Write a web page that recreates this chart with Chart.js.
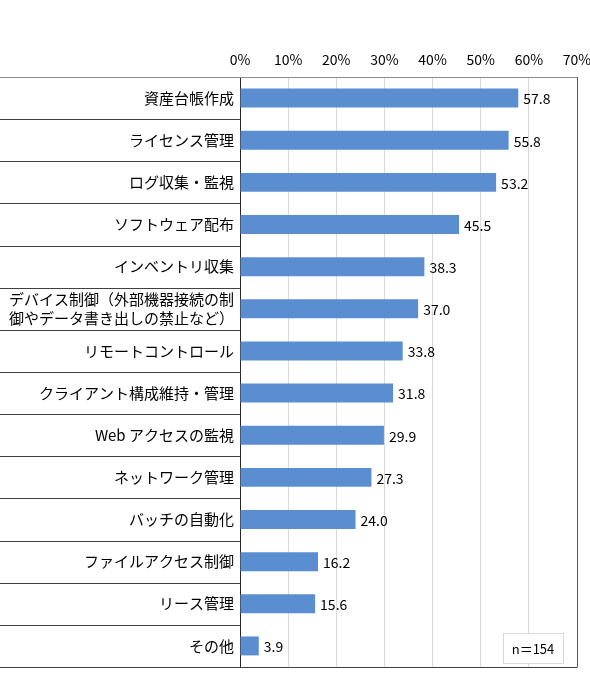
<!DOCTYPE html>
<html>
<head>
<meta charset="utf-8">
<script src="https://cdn.jsdelivr.net/npm/chart.js@4"></script>
<style>
html,body{margin:0;padding:0;background:#fff;}
#wrap{width:590px;height:681px;position:relative;}
</style>
</head>
<body>
<div id="wrap"><canvas id="c" width="590" height="681"></canvas></div>
<script>
const categories = [
  '資産台帳作成',
  'ライセンス管理',
  'ログ収集・監視',
  'ソフトウェア配布',
  'インベントリ収集',
  ['デバイス制御（外部機器接続の制', '御やデータ書き出しの禁止など）'],
  'リモートコントロール',
  'クライアント構成維持・管理',
  'Web アクセスの監視',
  'ネットワーク管理',
  'バッチの自動化',
  'ファイルアクセス制御',
  'リース管理',
  'その他'
];
const values = [57.8, 55.8, 53.2, 45.5, 38.3, 37.0, 33.8, 31.8, 29.9, 27.3, 24.0, 16.2, 15.6, 3.9];
const xTickLabels = ['0%', '10%', '20%', '30%', '40%', '50%', '60%', '70%'];
const sampleNote = 'n＝154';

const FONT = "'Noto Sans CJK JP', 'Noto Sans', sans-serif";

const framePlugin = {
  id: 'frame',
  afterDraw(chart) {
    const ctx = chart.ctx;
    const a = chart.chartArea;
    const ys = chart.scales.y;
    ctx.save();
    ctx.strokeStyle = '#404040';
    ctx.lineWidth = 1;
    const n = categories.length;
    for (let i = 1; i < n; i++) {
      const y = Math.round((ys.getPixelForValue(i - 1) + ys.getPixelForValue(i)) / 2) + 0.5;
      ctx.beginPath();
      ctx.moveTo(0, y);
      ctx.lineTo(a.left, y);
      ctx.stroke();
    }
    ctx.strokeStyle = '#8c8c8c';
    ctx.beginPath();
    ctx.moveTo(0, Math.round(a.top) + 0.5);
    ctx.lineTo(a.right, Math.round(a.top) + 0.5);
    ctx.stroke();
    ctx.strokeStyle = '#404040';
    ctx.beginPath();
    ctx.moveTo(0, Math.round(a.bottom) + 0.5);
    ctx.lineTo(a.right + 0.5, Math.round(a.bottom) + 0.5);
    ctx.stroke();
    ctx.strokeStyle = '#595959';
    ctx.beginPath();
    ctx.moveTo(Math.round(a.right) + 0.5, a.top);
    ctx.lineTo(Math.round(a.right) + 0.5, a.bottom);
    ctx.stroke();
    ctx.fillStyle = '#000';
    ctx.font = '14px ' + FONT;
    ctx.textAlign = 'left';
    ctx.textBaseline = 'middle';
    const meta = chart.getDatasetMeta(0);
    meta.data.forEach((bar, i) => {
      ctx.fillText(values[i].toFixed(1), bar.x + 5, bar.y + 1);
    });
    const bw = 60, bh = 30;
    const bx = a.right - 14 - bw, by = a.bottom - 4 - bh;
    ctx.fillStyle = '#fff';
    ctx.fillRect(bx, by, bw, bh);
    ctx.strokeStyle = '#d9d9d9';
    ctx.strokeRect(bx + 0.5, by + 0.5, bw, bh);
    ctx.fillStyle = '#000';
    ctx.font = '13px ' + FONT;
    ctx.textAlign = 'center';
    ctx.fillText(sampleNote, bx + bw / 2, by + bh / 2 + 1);
    ctx.restore();
  }
};

new Chart(document.getElementById('c'), {
  type: 'bar',
  data: {
    labels: categories,
    datasets: [{
      data: values,
      backgroundColor: '#5B8ED1',
      borderWidth: 0,
      categoryPercentage: 1.0,
      barPercentage: 0.45
    }]
  },
  options: {
    indexAxis: 'y',
    responsive: false,
    animation: false,
    devicePixelRatio: 1,
    layout: { padding: { left: 0, right: 13, top: 0, bottom: 14 } },
    plugins: { legend: { display: false }, tooltip: { enabled: false } },
    scales: {
      x: {
        position: 'top',
        min: 0,
        max: 70,
        ticks: {
          stepSize: 10,
          padding: 9,
          color: '#000',
          maxRotation: 0,
          font: { family: FONT, size: 14 },
          callback: (v, i) => xTickLabels[i]
        },
        grid: { color: '#d9d9d9', drawTicks: false, lineWidth: 1 },
        border: { display: false },
        afterFit(s) { s.height = 77; s.paddingRight = 0; s.paddingLeft = 0; }
      },
      y: {
        ticks: {
          padding: 6,
          color: '#000',
          font: { family: FONT, size: 15, lineHeight: 1.25 }
        },
        grid: { display: false, drawTicks: false },
        border: { display: true, color: '#262626', width: 1 },
        afterFit(s) { s.width = 240; s.paddingTop = 0; s.paddingBottom = 0; }
      }
    }
  },
  plugins: [framePlugin]
});
</script>
</body>
</html>
